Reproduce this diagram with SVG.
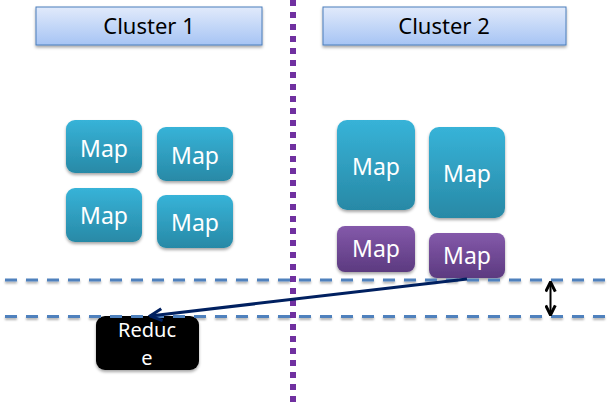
<svg xmlns="http://www.w3.org/2000/svg" width="616" height="408" viewBox="0 0 616 408">
<style>
.hdr{fill:url(#gHdr);stroke:#4A7EBB;stroke-width:1;filter:url(#sh)}
.teal{fill:url(#gTeal);filter:url(#sh)}
.purp{fill:url(#gPurp);filter:url(#sh)}
.lbl{font-family:"Noto Sans","Open Sans",sans-serif;text-anchor:middle}
.ht{font-size:22px;fill:#000}
.mt{font-size:23px;fill:#fff}
.rt{font-size:20px;fill:#fff}
.dash{stroke:#4F81BD;stroke-width:3;stroke-dasharray:12 9;fill:none;filter:url(#sh2)}
</style>
<defs>
<linearGradient id="gHdr" x1="0" y1="0" x2="0" y2="1"><stop offset="0" stop-color="#E1EAFB"/><stop offset="1" stop-color="#A6C4F4"/></linearGradient>
<linearGradient id="gTeal" x1="0" y1="0" x2="0" y2="1"><stop offset="0" stop-color="#37B3D8"/><stop offset="1" stop-color="#2889A6"/></linearGradient>
<linearGradient id="gPurp" x1="0" y1="0" x2="0" y2="1"><stop offset="0" stop-color="#8459AA"/><stop offset="1" stop-color="#5C3A80"/></linearGradient>
<filter id="sh" x="-10%" y="-10%" width="120%" height="130%"><feDropShadow dx="0" dy="2" stdDeviation="1.5" flood-color="#000" flood-opacity="0.35"/></filter>
<filter id="sh2" filterUnits="userSpaceOnUse" x="0" y="0" width="616" height="408"><feDropShadow dx="0" dy="2" stdDeviation="1" flood-color="#000" flood-opacity="0.3"/></filter>
<marker id="ah" viewBox="0 0 10 10" refX="9" refY="5" markerWidth="5" markerHeight="5" orient="auto"><path d="M1,1 L9,5 L1,9" fill="none" stroke="#002060" stroke-width="2"/></marker>
<marker id="bh" viewBox="0 0 10 10" refX="9" refY="5" markerWidth="6" markerHeight="6" orient="auto-start-reverse"><path d="M1,1 L9,5 L1,9" fill="none" stroke="#000" stroke-width="2.5"/></marker>
</defs>

<g id="cluster1"><rect class="hdr" x="36" y="7" width="226" height="38"/><text class="lbl ht" x="149" y="34">Cluster 1</text></g>
<g id="cluster2"><rect class="hdr" x="323" y="7" width="243" height="38"/><text class="lbl ht" x="444" y="34">Cluster 2</text></g>

<g id="divider"><line x1="293" y1="0" x2="293" y2="408" stroke="#7030A0" stroke-width="6" stroke-dasharray="6 6"/></g>

<g id="map1"><rect class="teal" x="66" y="120" width="76" height="53" rx="9"/><text class="lbl mt" x="104" y="157">Map</text></g>
<g id="map2"><rect class="teal" x="157" y="127" width="76" height="54" rx="9"/><text class="lbl mt" x="195" y="164">Map</text></g>
<g id="map3"><rect class="teal" x="66" y="188" width="76" height="54" rx="9"/><text class="lbl mt" x="104" y="224">Map</text></g>
<g id="map4"><rect class="teal" x="157" y="195" width="76" height="53" rx="9"/><text class="lbl mt" x="195" y="231">Map</text></g>

<g id="map5"><rect class="teal" x="337" y="120" width="78" height="90" rx="10"/><text class="lbl mt" x="376" y="175">Map</text></g>
<g id="map6"><rect class="teal" x="429" y="127" width="76" height="91" rx="10"/><text class="lbl mt" x="467" y="182">Map</text></g>
<g id="map7"><rect class="purp" x="337" y="226" width="78" height="46" rx="8"/><text class="lbl mt" x="376" y="257">Map</text></g>
<g id="map8"><rect class="purp" x="429" y="233" width="76" height="45" rx="8"/><text class="lbl mt" x="467" y="264">Map</text></g>

<g id="reduce"><rect x="96" y="316" width="103" height="54" rx="9" fill="#000" filter="url(#sh)"/><text class="lbl rt"><tspan x="147" y="337">Reduc</tspan><tspan x="147" y="365">e</tspan></text></g>

<g id="connectors">
<line class="dash" x1="5" y1="280" x2="610" y2="280"/>
<line class="dash" x1="5" y1="316.5" x2="610" y2="316.5"/>
<line x1="467" y1="279" x2="150" y2="316" stroke="#002060" stroke-width="3" marker-end="url(#ah)"/>
<line x1="550.5" y1="282" x2="550.5" y2="315" stroke="#000" stroke-width="2" marker-start="url(#bh)" marker-end="url(#bh)"/>
</g>
</svg>
